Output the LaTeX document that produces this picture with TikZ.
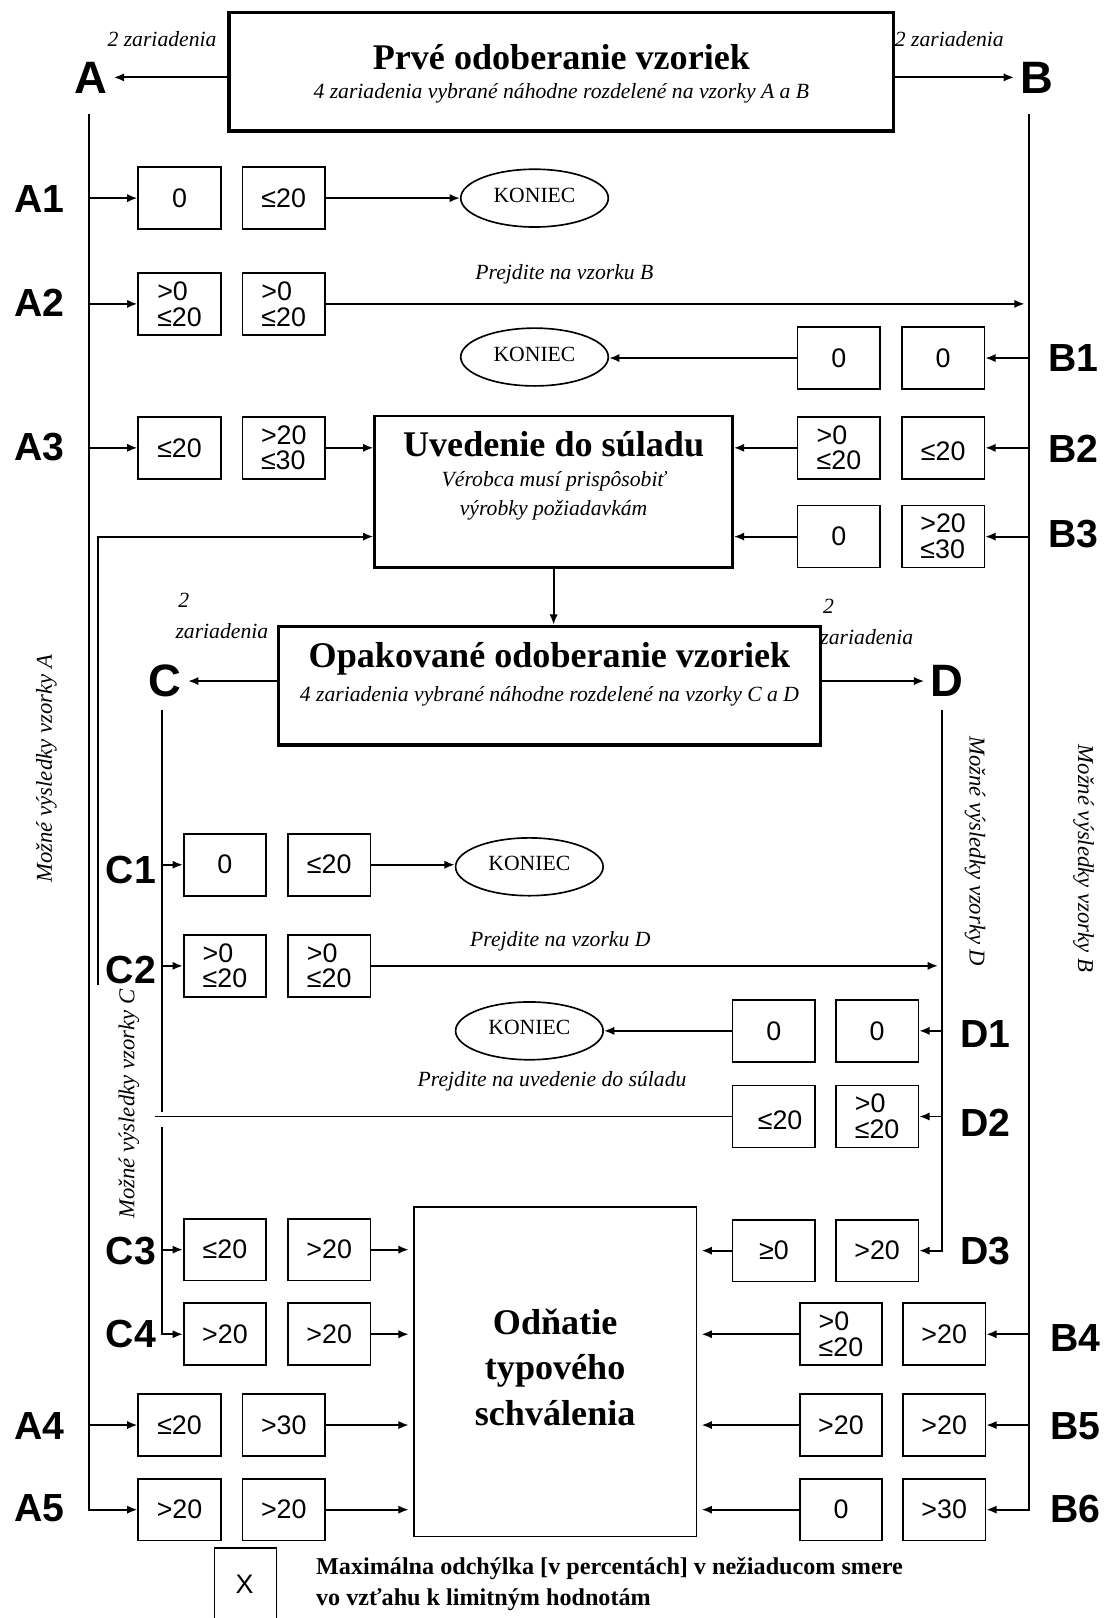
\documentclass[tikz,border=0pt]{standalone}
\usepackage{fontspec}
\setmainfont{Liberation Serif}
\newfontfamily\sansf{Liberation Sans}
\usetikzlibrary{shapes.geometric,arrows.meta,calc}
\newcommand{\pairrow}[6]{%
  \node[numbox] (#1-a) at (#2,#4) {#5};
  \node[numbox] (#1-b) at (#3,#4) {#6};}
\tikzset{
 numbox/.style={draw, line width=0.8pt, minimum width=40pt, minimum height=30pt, inner sep=1pt, align=left, font=\sansf\fontsize{13}{12.5}\selectfont},
 rowlbl/.style={font=\sansf\bfseries\fontsize{19}{19}\selectfont, inner sep=0},
 biglbl/.style={font=\sansf\bfseries\fontsize{22}{22}\selectfont, inner sep=0},
 conn/.style={line width=0.9pt, -{Latex[length=5pt,width=4pt]}},
 plainln/.style={line width=0.8pt},
 endnode/.style={draw, ellipse, line width=0.8pt, minimum width=71.5pt, minimum height=28pt, inner sep=0, font=\fontsize{10.5}{12}\selectfont},
 ttl/.style={font=\bfseries\fontsize{17.5}{22}\selectfont, inner sep=0, align=center},
 note/.style={font=\itshape\fontsize{10.5}{14}\selectfont, inner sep=0},
 side/.style={font=\itshape\fontsize{11}{13}\selectfont, inner sep=0},
 legend/.style={font=\bfseries\fontsize{11.7}{15}\selectfont, inner sep=0, align=left},
}
\begin{document}
\begin{tikzpicture}[x=0.5pt,y=-0.5pt]
\useasboundingbox (0,0) rectangle (1074,1568);
\fill[white] (0,0) rectangle (1074,1568);

% ---- top box
\node[draw, line width=1.6pt, minimum width=322pt, minimum height=57.5pt, inner sep=0] (Top) at (544,69.5) {};
\node[ttl] (TopT) at (544,55) {Prvé odoberanie vzoriek};
\node[note] (TopS) at (544,90) {4 zariadenia vybrané náhodne rozdelené na vzorky A a B};
\node[biglbl] (A) at (88,75) {A};
\node[biglbl] (B) at (1005,75) {B};
\node[note] (zA) at (157,38) {2 zariadenia};
\node[note] (zB) at (920,38) {2 zariadenia};
\draw[conn, shorten >=3pt] (Top.west |- A.east) -- (A.east);
\draw[conn, shorten >=3pt] (Top.east |- B.west) -- (B.west);

% ---- Uvedenie
\node[draw, line width=1.2pt, minimum width=173.5pt, minimum height=73.5pt, inner sep=0] (Uv) at (536.5,476.5) {};
\node[ttl] (UvT) at (536.5,430) {Uvedenie do súladu};
\node[note] (UvS1) at (536.5,466) {Vérobca musí prispôsobiť};
\node[note] (UvS2) at (536.5,495) {výrobky požiadavkám};

% ---- Opakovane
\node[draw, line width=1.6pt, minimum width=262.5pt, minimum height=57.5pt, inner sep=0] (Op) at (532.5,664.5) {};
\node[ttl] (OpT) at (532.5,638) {Opakované odoberanie vzoriek};
\node[note] (OpS) at (532.5,675) {4 zariadenia vybrané náhodne rozdelené na vzorky C a D};
\node[biglbl] (C) at (160,660) {C};
\node[biglbl] (D) at (918,660) {D};
\node[note] (zC1) at (178,582) {2};
\node[note] (zC2) at (215,612) {zariadenia};
\node[note] (zD1) at (803,588) {2};
\node[note] (zD2) at (840,617) {zariadenia};
\draw[conn, shorten >=3pt] (Op.west |- C.east) -- (C.east);
\draw[conn, shorten >=3pt] (Op.east |- D.west) -- (D.west);

% ---- Odnatie
\node[draw, line width=0.9pt, minimum width=137pt, minimum height=159.5pt, inner sep=0] (Od) at (538,1329.5) {};
\node[ttl] (OdT) at (538,1325) {Odňatie\\typového\\schválenia};

% ---- ends
\node[endnode] (K1) at (518,192) {\raisebox{3pt}{KONIEC}};
\node[endnode] (K2) at (518,346) {\raisebox{3pt}{KONIEC}};
\node[endnode] (K3) at (513,840) {\raisebox{3pt}{KONIEC}};
\node[endnode] (K4) at (513,999) {\raisebox{3pt}{KONIEC}};

% ---- boxes
\pairrow{A1}{174}{275}{192}{0}{≤20}
\pairrow{A2}{174}{275}{294.5}{>0\\≤20}{>0\\≤20}
\pairrow{A3}{174}{275}{434}{≤20}{>20\\≤30}
\pairrow{A4}{174}{275}{1381}{≤20}{>30}
\pairrow{A5}{174}{275}{1463}{>20}{>20}
\pairrow{B1}{813}{914}{347}{0}{0}
\pairrow{B2}{813}{914}{434}{>0\\≤20}{\mbox{}\\≤20}
\pairrow{B3}{813}{914}{520}{0}{>20\\≤30}
\pairrow{B4}{815}{915}{1293}{>0\\≤20}{>20}
\pairrow{B5}{815}{915}{1381}{>20}{>20}
\pairrow{B6}{815}{915}{1463}{0}{>30}
\pairrow{C1}{218}{319}{838}{0}{≤20}
\pairrow{C2}{218}{319}{936}{>0\\≤20}{>0\\≤20}
\pairrow{C3}{218}{319}{1211}{≤20}{>20}
\pairrow{C4}{218}{319}{1293}{>20}{>20}
\pairrow{D1}{750}{850}{999}{0}{0}
\pairrow{D2}{750}{850}{1082}{\mbox{}\\\hspace*{6pt}≤20}{>0\\≤20}
\pairrow{D3}{750}{850}{1212}{≥0}{>20}

% ---- row labels
\node[rowlbl] (lA1) at (38,193) {A1};
\node[rowlbl] (lA2) at (38,293) {A2};
\node[rowlbl] (lA3) at (38,433) {A3};
\node[rowlbl] (lA4) at (38,1382) {A4};
\node[rowlbl] (lA5) at (38,1462) {A5};
\node[rowlbl] (lB1) at (1040,347) {B1};
\node[rowlbl] (lB2) at (1040,435) {B2};
\node[rowlbl] (lB3) at (1040,518) {B3};
\node[rowlbl] (lB4) at (1042,1297) {B4};
\node[rowlbl] (lB5) at (1042,1382) {B5};
\node[rowlbl] (lB6) at (1042,1462) {B6};
\node[rowlbl] (lC1) at (127,843) {C1};
\node[rowlbl] (lC2) at (127,940) {C2};
\node[rowlbl] (lC3) at (127,1212) {C3};
\node[rowlbl] (lC4) at (127,1293) {C4};
\node[rowlbl] (lD1) at (955,1002) {D1};
\node[rowlbl] (lD2) at (955,1088) {D2};
\node[rowlbl] (lD3) at (955,1212) {D3};

% ---- notes
\node[note] (pB) at (547,266) {Prejdite na vzorku B};
\node[note] (pD) at (543,912) {Prejdite na vzorku D};
\node[note] (pU) at (535,1048) {Prejdite na uvedenie do súladu};
\node[side, rotate=90] (vA) at (45,745) {Možné výsledky vzorky A};
\node[side, rotate=90] (vC) at (125,1070) {Možné výsledky vzorky C};
\node[side, rotate=-90] (vD) at (945,825) {Možné výsledky vzorky D};
\node[side, rotate=-90] (vB) at (1050,832) {Možné výsledky vzorky B};

% ---- A / B lines
\coordinate (Atop) at (86,110);
\coordinate (Btop) at (997,110);
\draw[conn] (Atop) |- (A5-a.west);
\foreach \r in {A1,A2,A3,A4} \draw[conn] (Atop |- \r-a.west) -- (\r-a.west);
\draw[conn] (Btop) |- (B6-b.east);
\foreach \r in {B1,B2,B3,B4,B5} \draw[conn] (Btop |- \r-b.east) -- (\r-b.east);
\draw[conn] (A1-b.east) -- (A1-b.east -| K1.west);
\draw[conn, shorten >=2pt] (A2-b.east) -- (A2-b.east -| Btop);
\draw[conn] (B1-a.west) -- (B1-a.west -| K2.east);
\draw[conn] (A3-b.east) -- (A3-b.east -| Uv.west);
\draw[conn] (B2-a.west) -- (B2-a.west -| Uv.east);
\draw[conn] (B3-a.west) -- (B3-a.west -| Uv.east);
\coordinate (FB) at (95,955);
\draw[conn] (FB) |- (B3-a.west -| Uv.west);
\draw[conn] (Uv.south) -- (Uv.south |- Op.north);

% ---- C / D lines
\coordinate (Ctop) at (157,688);
\coordinate (Cg1) at (157,1078);
\coordinate (Cg2) at (157,1092);
\draw[plainln] (Ctop) -- (Cg1);
\draw[conn] (Cg2) |- (C4-a.west);
\foreach \r in {C1,C2,C3} \draw[conn] (Ctop |- \r-a.west) -- (\r-a.west);
\coordinate (Dtop) at (913,688);
\draw[conn] (Dtop) |- (D3-b.east);
\foreach \r in {D1,D2} \draw[conn] (Dtop |- \r-b.east) -- (\r-b.east);
\draw[conn] (C1-b.east) -- (C1-b.east -| K3.west);
\draw[conn, shorten >=2pt] (C2-b.east) -- (C2-b.east -| Dtop);
\draw[conn] (D1-a.west) -- (D1-a.west -| K4.east);
\coordinate (Dend) at (150,1085);
\draw[plainln] (D2-a.west) -- (D2-a.west -| Dend);
\foreach \r in {C3,C4,A4,A5} \draw[conn, shorten >=2pt] (\r-b.east) -- (\r-b.east -| Od.west);
\foreach \r in {D3,B4,B5,B6} \draw[conn, shorten >=2pt] (\r-a.west) -- (\r-a.west -| Od.east);

% ---- legend
\node[font=\sansf\fontsize{13}{13}\selectfont, inner sep=0] (Lx) at (237,1535) {X};
\draw[line width=0.8pt] (208,1570) |- (268,1500) -- (268,1570);
\node[legend, anchor=west] (Lt) at (306,1535) {Maximálna odchýlka [v percentách] v nežiaducom smere\\vo vzťahu k limitným hodnotám};
\end{tikzpicture}
\end{document}
